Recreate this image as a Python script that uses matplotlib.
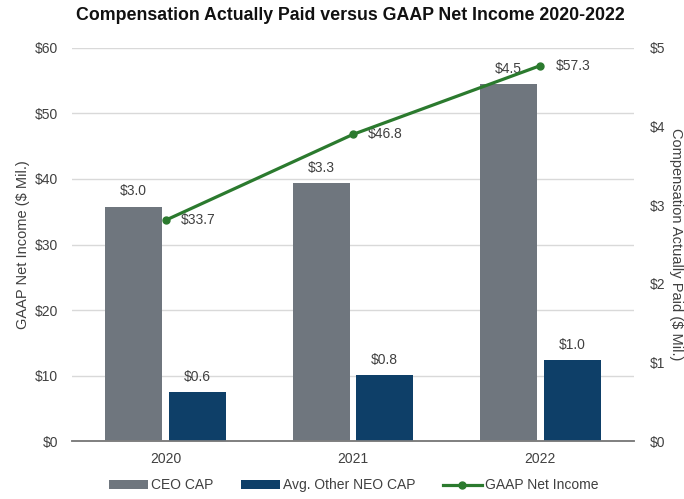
import numpy as np
import matplotlib
matplotlib.use("Agg")
from matplotlib import pyplot as plt
from matplotlib.ticker import FuncFormatter, MultipleLocator

plt.rcParams['font.family'] = ['Liberation Sans', 'DejaVu Sans']

# chart data
years = ["2020", "2021", "2022"]
ceo_cap = [2.98, 3.28, 4.54]          # $ Mil., right axis
neo_cap = [0.62, 0.84, 1.03]          # $ Mil., right axis
net_income = [33.7, 46.8, 57.3]       # $ Mil., left axis

CEO_COLOR = "#6f767e"
NEO_COLOR = "#0e3f68"
LINE_COLOR = "#2b7a2e"
TEXT_COLOR = "#404040"

fig = plt.figure(figsize=(6.84, 4.99), dpi=100)
ax = fig.add_axes([0.105, 0.116, 0.822, 0.788])
ax2 = ax.twinx()

x = np.arange(len(years))
width = 0.305
off = 0.17

# bars on the right (compensation) axis
b1 = ax2.bar(x - off, ceo_cap, width, color=CEO_COLOR, label="CEO CAP", zorder=2)
b2 = ax2.bar(x + off, neo_cap, width, color=NEO_COLOR, label="Avg. Other NEO CAP", zorder=2)
for bars, vals in ((b1, ceo_cap), (b2, neo_cap)):
    for rect, v in zip(bars, vals):
        ax2.annotate(f"${v:.1f}", (rect.get_x() + rect.get_width() / 2, v),
                     xytext=(0, 6), textcoords="offset points", ha="center", va="bottom",
                     fontsize=10, color=TEXT_COLOR)

# line on the left (net income) scale, drawn on top of the bars
line_ax = ax.twinx()
line_ax.set_ylim(0, 60)
line_ax.axis("off")
l1, = line_ax.plot(x, net_income, color=LINE_COLOR, linewidth=2.3, marker="o",
                   markersize=5, label="GAAP Net Income", zorder=5)
for xi, v in zip(x, net_income):
    line_ax.annotate(f"${v:.1f}", (xi, v), xytext=(11, 0), textcoords="offset points",
                     ha="left", va="center", fontsize=10, color=TEXT_COLOR)

# axes styling
ax.set_xlim(-0.5, 2.5)
ax.set_ylim(0, 60)
ax2.set_ylim(0, 5)
ax.yaxis.set_major_locator(MultipleLocator(10))
ax2.yaxis.set_major_locator(MultipleLocator(1))
ax.yaxis.set_major_formatter(FuncFormatter(lambda v, p: f"${v:.0f}"))
ax2.yaxis.set_major_formatter(FuncFormatter(lambda v, p: f"${v:.0f}"))
ax.set_xticks(x)
ax.set_xticklabels(years)

ax.grid(axis="y", color="#d9d9d9", linewidth=1, zorder=0)
ax.set_axisbelow(True)
for a in (ax, ax2):
    for s in ("top", "left", "right"):
        a.spines[s].set_visible(False)
    a.spines["bottom"].set_color("#7f7f7f")
    a.spines["bottom"].set_linewidth(1.2)
    a.tick_params(axis="both", length=0, labelsize=10, colors=TEXT_COLOR)
ax.tick_params(axis="x", pad=8)
ax.tick_params(axis="y", pad=10)
ax2.tick_params(axis="y", pad=11)

ax.set_ylabel("GAAP Net Income ($ Mil.)", fontsize=10.5, color=TEXT_COLOR, labelpad=3)
ax2.set_ylabel("Compensation Actually Paid ($ Mil.)", fontsize=10.5, color=TEXT_COLOR,
               rotation=270, va="bottom", labelpad=3)

fig.suptitle("Compensation Actually Paid versus GAAP Net Income 2020-2022",
             x=0.512, y=0.985, fontsize=12.8, fontweight="bold", color="#111111")

fig.legend(handles=[b1, b2, l1], loc="lower center", bbox_to_anchor=(0.517, -0.012),
           ncol=3, frameon=False, fontsize=10, handlelength=2.8, handleheight=0.6,
           columnspacing=2.0, handletextpad=0.2, labelcolor=TEXT_COLOR)

fig.savefig("out.png", dpi=100)
